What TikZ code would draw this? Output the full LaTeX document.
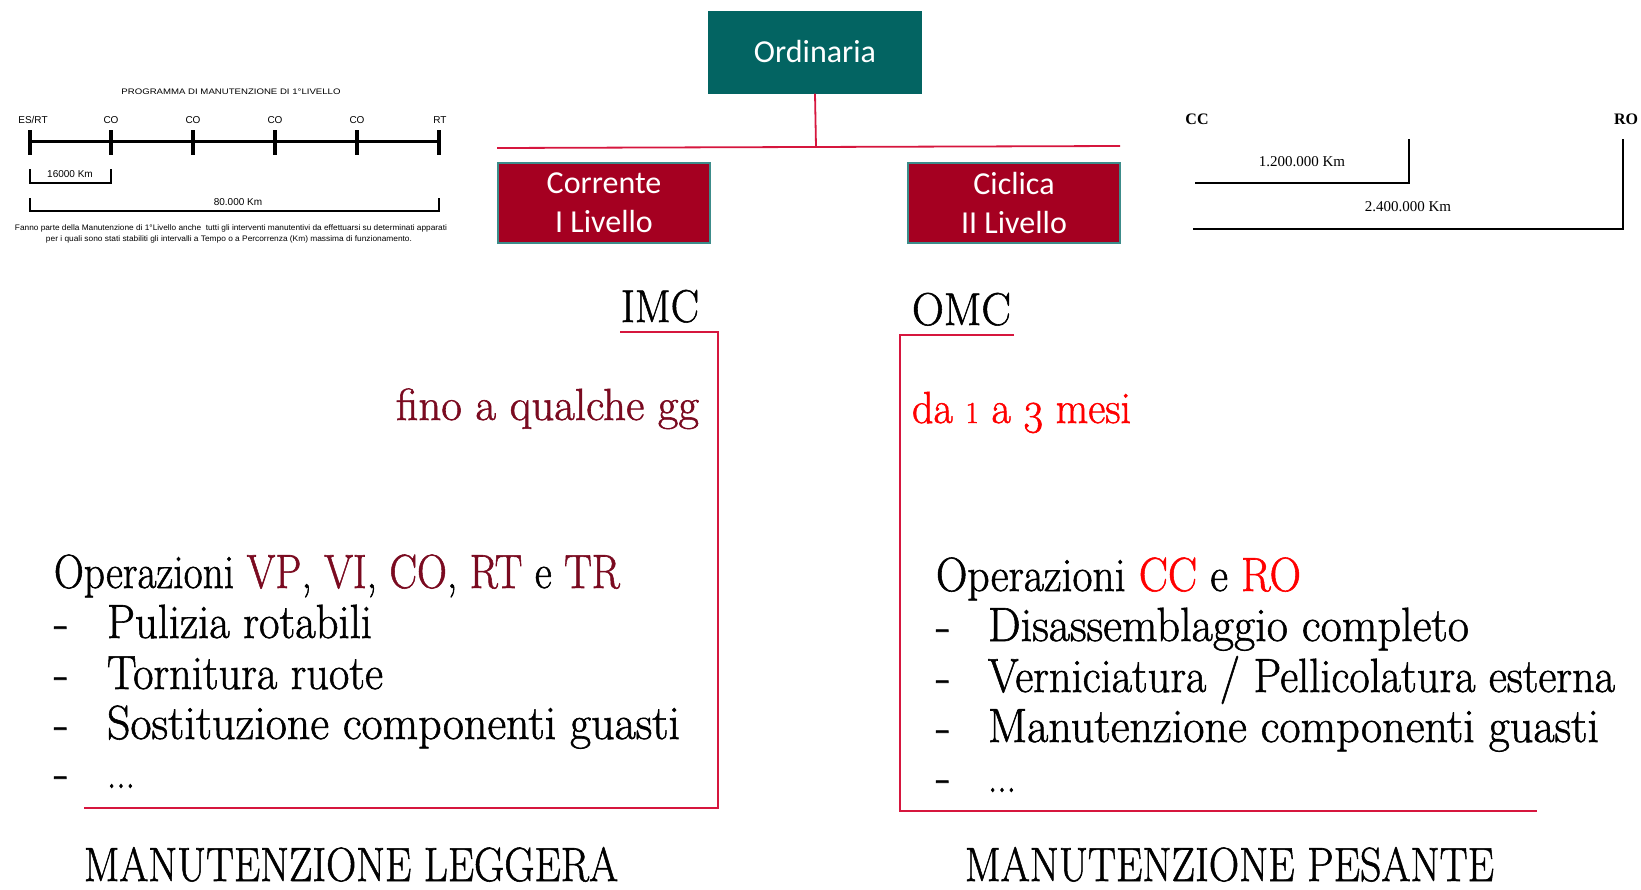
\documentclass[tikz,border=0pt]{standalone}
\usepackage{fontspec}
\usepackage{graphicx}
\newfontfamily\calibri{Carlito}
\newfontfamily\arial{Liberation Sans}
\newfontfamily\tnr{Liberation Serif}
\newfontfamily\bodyfont[FakeBold=1.2]{Latin Modern Roman}
\definecolor{teal1}{RGB}{3,100,98}
\definecolor{tealedge}{RGB}{60,140,138}
\definecolor{boxred}{RGB}{165,0,33}
\definecolor{crim}{RGB}{214,22,62}
\definecolor{maroon1}{RGB}{122,10,32}
\definecolor{red1}{RGB}{255,0,0}
\newcommand{\fitw}[2]{\resizebox{#1}{\height}{#2}}
\newcommand{\oldone}{\scalebox{0.68}{1}}
\newcommand{\oldthree}{\raisebox{-0.21em}{3}}
\begin{document}
\begin{tikzpicture}[x=1pt,y=-1pt,
  txt/.style={inner sep=0pt, outer sep=0pt},
  tealbox/.style={fill=teal1, text=white, minimum width=214pt, minimum height=83pt, inner sep=0pt,
    font=\calibri\fontsize{32}{39}\selectfont, align=center},
  redbox/.style={fill=boxred, draw=tealedge, line width=1.5pt, text=white, minimum width=212pt, minimum height=80pt,
    inner sep=0pt, font=\calibri\fontsize{32}{39}\selectfont, align=center},
  conn/.style={draw=crim, line width=1.8pt},
  body/.style={txt, anchor=base west, font=\bodyfont\fontsize{48}{50}\selectfont},
  head/.style={txt, anchor=base west, font=\bodyfont\fontsize{48}{50}\selectfont},
  small/.style={txt, anchor=base, font=\arial\fontsize{10}{12}\selectfont},
  tiny/.style={txt, anchor=base, font=\arial\fontsize{8}{9}\selectfont},
  serifsm/.style={txt, anchor=base, font=\tnr\fontsize{15}{17}\selectfont},
  thick ruler/.style={line width=3.5pt},
  bracket/.style={line width=2.5pt},
]
\useasboundingbox (0,0) rectangle (1641,889);

% ---------- tree ----------
\node[tealbox] (ord) at (815,52) {Ordinaria};
\node[redbox] (cor) at (604,203) {Corrente\\I Livello};
\node[redbox] (cic) at (1014,203) {Ciclica\\II Livello};
\coordinate (hm) at (816,147);
\coordinate (hl) at (497,148);
\coordinate (hr) at (1120,146);
\draw[conn] (ord.south) -- (hm);
\draw[conn] (hl) -- (hr);

% ---------- left ruler ----------
\node[tiny] (ptitle) at (231,94) {\fitw{219pt}{PROGRAMMA DI MANUTENZIONE DI 1°LIVELLO}};
\node[small] (l0) at (33,123) {ES/RT};
\node[small] (l1) at (111,123) {CO};
\node[small] (l2) at (193,123) {CO};
\node[small] (l3) at (275,123) {CO};
\node[small] (l4) at (357,123) {CO};
\node[small] (l5) at (440,123) {RT};
\draw[thick ruler] (30,141.7) -- (439,141.7);
\foreach \x in {30,111,193,275,357,439} \draw[thick ruler] (\x,130) -- (\x,155);
\draw[bracket] (30,169) -- (30,183) -- (111,183) -- (111,169);
\draw[bracket] (30,198) -- (30,211) -- (439,211) -- (439,198);
\node[small] (k16) at (70,177) {16000 Km};
\node[small] (k80) at (238,205) {80.000 Km};
\node[tiny] (fn1) at (231,230.5) {\fitw{432pt}{Fanno parte della Manutenzione di 1°Livello anche \ tutti gli interventi manutentivi da effettuarsi su determinati apparati}};
\node[tiny] (fn2) at (229,241.5) {\fitw{366pt}{per i quali sono stati stabiliti gli intervalli a Tempo o a Percorrenza (Km) massima di funzionamento.}};

% ---------- right ruler ----------
\node[txt, anchor=base, font=\tnr\bfseries\fontsize{16}{18}\selectfont] (cc) at (1197,124) {CC};
\node[txt, anchor=base, font=\tnr\bfseries\fontsize{16}{18}\selectfont] (ro) at (1626,124) {RO};
\draw[bracket] (1195,183) -- (1409,183) -- (1409,139);
\draw[bracket] (1193,229) -- (1623,229) -- (1623,139);
\node[serifsm] (k12) at (1302,166) {1.200.000 Km};
\node[serifsm] (k24) at (1408,211) {2.400.000 Km};

% ---------- IMC ----------
\node[txt, anchor=base west, font=\bodyfont\fontsize{46}{48}\selectfont] (imc) at (621,322) {\fitw{78pt}{IMC}};
\coordinate (i1) at (620,332);
\coordinate (i2) at (718,332);
\coordinate (i3) at (718,808);
\coordinate (i4) at (84,808);
\draw[conn] (i1) -- (i2) -- (i3) -- (i4);
\node[txt, anchor=base west, font=\bodyfont\fontsize{45}{47}\selectfont, text=maroon1] (fino) at (396,420) {\fitw{303pt}{fino a qualche gg}};

\node[body] (lop) at (54,588) {\fitw{566pt}{Operazioni \textcolor{maroon1}{VP}, \textcolor{maroon1}{VI}, \textcolor{maroon1}{CO}, \textcolor{maroon1}{RT} e \textcolor{maroon1}{TR}}};
\node[body] (ld1) at (54,638) {-};
\node[body] (li1) at (107,638) {\fitw{265pt}{Pulizia rotabili}};
\node[body] (ld2) at (54,689) {-};
\node[body] (li2) at (107,689) {\fitw{276pt}{Tornitura ruote}};
\node[body] (ld3) at (54,739) {-};
\node[body] (li3) at (107,739) {\fitw{573pt}{Sostituzione componenti guasti}};
\node[body] (ld4) at (54,788) {-};
\node[body] (li4) at (107,788) {\fitw{28pt}{...}};

\node[head] (mleg) at (84,881) {\fitw{534pt}{MANUTENZIONE LEGGERA}};

% ---------- OMC ----------
\node[txt, anchor=base west, font=\bodyfont\fontsize{46}{48}\selectfont] (omc) at (912,325) {\fitw{99pt}{OMC}};
\coordinate (o1) at (1014,335);
\coordinate (o2) at (900,335);
\coordinate (o3) at (900,812);
\coordinate (o4) at (1537,811);
\draw[conn] (o1) -- (o2) -- (o3);
\coordinate (o5) at (900,811);
\draw[conn] (o5) -- (o4);
\node[txt, anchor=base west, font=\bodyfont\fontsize{45}{47}\selectfont, text=red1] (mesi) at (912,423) {\fitw{219pt}{da \oldone\ a \oldthree\ mesi}};

\node[body] (rop) at (936,591) {\fitw{365pt}{Operazioni \textcolor{red1}{CC} e \textcolor{red1}{RO}}};
\node[body] (rd1) at (936,641) {-};
\node[body] (ri1) at (988,641) {\fitw{481pt}{Disassemblaggio completo}};
\node[body] (rd2) at (936,692) {-};
\node[body] (ri2) at (988,692) {\fitw{627pt}{Verniciatura / Pellicolatura esterna}};
\node[body] (rd3) at (936,742) {-};
\node[body] (ri3) at (988,742) {\fitw{611pt}{Manutenzione componenti guasti}};
\node[body] (rd4) at (936,792) {-};
\node[body] (ri4) at (988,792) {\fitw{28pt}{...}};

\node[head] (mpes) at (965,881) {\fitw{529pt}{MANUTENZIONE PESANTE}};
\end{tikzpicture}
\end{document}
